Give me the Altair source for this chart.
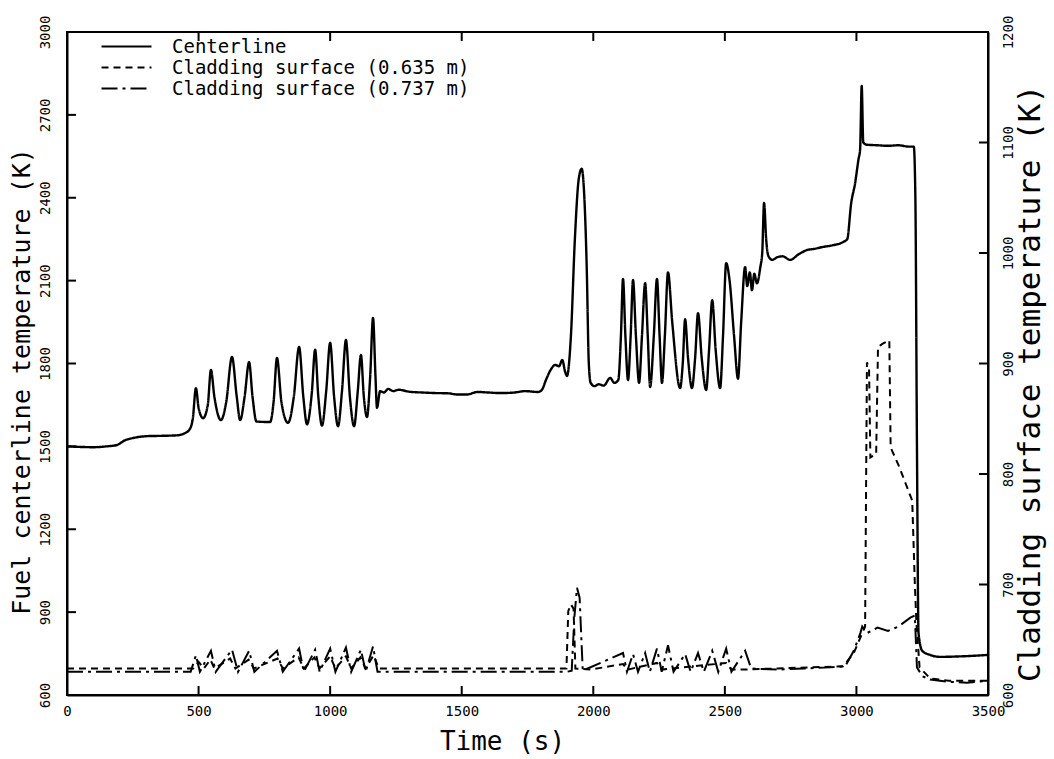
import altair as alt
import pandas as pd

SERIES = ["Centerline", "Cladding surface (0.635 m)", "Cladding surface (0.737 m)"]

# Fuel centerline temperature (K), left axis
cl_t = [0, 50, 100, 150, 190, 220, 250, 280, 304, 350, 418, 448, 465, 478,
        490, 500, 517, 535, 547, 560, 585, 605, 627, 645, 658, 675, 692, 705,
        720, 772, 785, 798, 815, 840, 862, 882, 898, 912, 930, 943, 955, 969,
        985, 1000, 1015, 1030, 1045, 1060, 1075, 1091, 1105, 1117, 1128, 1140,
        1152, 1163, 1172, 1178, 1190, 1205, 1220, 1240, 1260, 1300, 1350, 1400,
        1450, 1480, 1520, 1560, 1600, 1650, 1700, 1740, 1790, 1805, 1820, 1840,
        1855, 1870, 1882, 1893, 1900, 1915, 1930, 1945, 1956, 1965, 1975, 1983,
        1990, 2005, 2020, 2040, 2064, 2080, 2095, 2105, 2113, 2122, 2132, 2142,
        2151, 2162, 2174, 2185, 2197, 2207, 2216, 2230, 2242, 2252, 2261, 2272,
        2284, 2300, 2330, 2340, 2349, 2360, 2375, 2387, 2398, 2412, 2429, 2440,
        2452, 2465, 2482, 2493, 2505, 2518, 2535, 2550, 2562, 2577, 2585, 2595,
        2603, 2612, 2622, 2635, 2642, 2649, 2657, 2665, 2680, 2700, 2720, 2748,
        2780, 2813, 2840, 2873, 2910, 2950, 2965, 2980, 2995, 3008, 3014, 3020,
        3026, 3040, 3080, 3120, 3160, 3200, 3218, 3224, 3230, 3236, 3250, 3280,
        3318, 3400, 3500]
cl_v = [1500, 1498, 1497, 1500, 1505, 1522, 1530, 1535, 1537, 1538, 1540, 1548, 1560, 1600,
        1711, 1640, 1602, 1650, 1777, 1680, 1595, 1660, 1824, 1680, 1595, 1680, 1805, 1680,
        1590, 1588, 1660, 1820, 1660, 1585, 1680, 1860, 1680, 1580, 1690, 1850, 1680, 1575,
        1700, 1875, 1680, 1573, 1700, 1885, 1680, 1573, 1700, 1831, 1680, 1606,
        1750, 1965, 1760, 1640, 1700, 1695, 1708, 1700, 1705, 1698, 1695, 1693,
        1692, 1688, 1688, 1697, 1695, 1693, 1695, 1700, 1697, 1705, 1740, 1780,
        1795, 1790, 1813, 1770, 1755, 1900, 2250, 2470, 2505, 2420, 2150, 1800,
        1730, 1718, 1725, 1720, 1748, 1730, 1740, 1900, 2106, 1900, 1740, 1900,
        2102, 1900, 1730, 1900, 2091, 1900, 1715, 1900, 2106, 1900, 1730, 1900,
        2130, 1950, 1711, 1800, 1960, 1820, 1711, 1820, 1982, 1820, 1704, 1850,
        2029, 1850, 1711, 1900, 2163, 2100, 1900, 1745, 1950, 2149, 2080, 2130,
        2065, 2125, 2090, 2150, 2200, 2381, 2250, 2190, 2175, 2185, 2188, 2175,
        2195, 2211, 2215, 2222, 2228, 2240, 2250, 2380, 2453, 2540, 2575, 2805,
        2600, 2592, 2590, 2588, 2590, 2585, 2585, 2400, 1500, 824, 760, 745,
        738, 740, 745]

# Cladding surface temperature at 0.635 m (K), right axis
c635_t = [0, 200, 480, 500, 520, 545, 560, 620, 640, 690, 710, 800, 820, 880,
          900, 940, 960, 1000, 1020, 1060, 1080, 1115, 1135, 1165, 1185, 1500,
          1898, 1905, 1915, 1925, 1932, 1990, 2113, 2130, 2242, 2260, 2505,
          2525, 2560, 2700, 2950, 2990, 3015, 3033, 3040, 3048, 3053, 3075,
          3082, 3100, 3125, 3130, 3160, 3212, 3222, 3228, 3240, 3280, 3350, 3500]
c635_v = [624, 624, 624, 630, 624, 632, 624, 633, 624, 632, 624, 633, 624, 634,
          624, 634, 624, 635, 624, 635, 624, 634, 624, 636, 624, 624,
          624, 676, 682, 678, 624, 623, 628, 623, 629, 623, 629,
          623, 623, 624, 626, 638, 652, 662, 901, 895, 815, 818,
          915, 918, 921, 824, 808, 776, 700, 665, 625, 615, 613, 613]

# Cladding surface temperature at 0.737 m (K), right axis
c737_t = [0, 470, 490, 505, 547, 565, 627, 650, 692, 712, 798, 820, 882, 900,
          943, 960, 1000, 1020, 1060, 1080, 1117, 1135, 1163, 1180, 1900, 1918,
          1928, 1938, 1948, 1960, 2113, 2128, 2151, 2170, 2197, 2215, 2242,
          2260, 2284, 2305, 2349, 2370, 2398, 2420, 2452, 2475, 2505, 2525,
          2577, 2600, 2700, 2800, 2900, 2957, 2990, 3015, 3022, 3040, 3080,
          3120, 3160, 3205, 3222, 3230, 3250, 3280, 3350, 3420, 3500]
c737_v = [621, 621, 636, 621, 640, 621, 641, 621, 640, 621, 640, 621, 642, 621,
          641, 621, 642, 621, 643, 621, 641, 621, 644, 621, 621, 622,
          670, 697, 688, 622, 638, 621, 637, 621, 638, 621, 642,
          621, 645, 621, 637, 621, 638, 621, 640, 621, 642, 621,
          640, 624, 623, 624, 625, 626, 640, 656, 662, 656, 661,
          658, 662, 670, 672, 625, 617, 614, 612, 611, 613]

x_ticks = [0, 500, 1000, 1500, 2000, 2500, 3000, 3500]
left_ticks = [600, 900, 1200, 1500, 1800, 2100, 2400, 2700, 3000]
right_ticks = [600, 700, 800, 900, 1000, 1100, 1200]

W, H, TL = 921, 663, 9  # plot size and inward tick length

df_cl = pd.DataFrame({"t": cl_t, "v": cl_v, "series": SERIES[0]})
df_cd = pd.concat([
    pd.DataFrame({"t": c635_t, "v": c635_v, "series": SERIES[1]}),
    pd.DataFrame({"t": c737_t, "v": c737_v, "series": SERIES[2]}),
], ignore_index=True)
df_xt = pd.DataFrame({"t": x_ticks})
df_lt = pd.DataFrame({"v": left_ticks})
df_rt = pd.DataFrame({"v": right_ticks})

FONT = "DejaVu Sans Mono"

dash = alt.StrokeDash(
    "series:N",
    scale=alt.Scale(domain=SERIES, range=[[1, 0], [7, 5], [16, 5, 3, 5]]),
    legend=alt.Legend(
        title=None, orient="none", legendX=50, legendY=5,
        symbolType="M-5,0H5", symbolSize=100, symbolStrokeWidth=2,
        symbolStrokeColor="black", labelFont=FONT, labelFontSize=19,
        labelColor="black", labelOffset=36, rowPadding=1, padding=0,
        labelLimit=0,
    ),
)

xscale = alt.Scale(domain=[0, 3500], nice=False)
lscale = alt.Scale(domain=[600, 3000], nice=False, zero=False)
rscale = alt.Scale(domain=[600, 1200], nice=False, zero=False)

x_axis = alt.Axis(orient="bottom", values=x_ticks, title="Time (s)", ticks=False,
                  format="d", labelFlush=False, labelPadding=9, titlePadding=10,
                  titleFontSize=26, titleX=435, labelFontSize=14, grid=False)
l_axis = alt.Axis(orient="left", values=left_ticks,
                  title="Fuel centerline temperature (K)", ticks=False,
                  format="d", labelFlush=False, labelAngle=270, labelPadding=15,
                  labelFontSize=14, titleFontSize=25, titlePadding=4,
                  titleY=349, grid=False)
r_axis = alt.Axis(orient="right", values=right_ticks,
                  title="Cladding surface temperature (K)", ticks=False,
                  format="d", labelFlush=False, labelAngle=270, labelPadding=13,
                  labelFontSize=14, titleFontSize=31, titleAngle=270,
                  titleBaseline="top", titlePadding=0, titleY=351, grid=False)

cl_line = alt.Chart(df_cl).mark_line(color="black", strokeWidth=2.4,
                                     interpolate="monotone").encode(
    x=alt.X("t:Q", scale=xscale, axis=x_axis),
    y=alt.Y("v:Q", scale=lscale, axis=l_axis),
    strokeDash=dash,
)

tick_style = dict(color="black", strokeWidth=2)
bottom_ticks = alt.Chart(df_xt).mark_rule(**tick_style).encode(
    x=alt.X("t:Q", scale=xscale, axis=x_axis),
    y=alt.value(H), y2=alt.value(H - TL))
top_ticks = alt.Chart(df_xt).mark_rule(**tick_style).encode(
    x=alt.X("t:Q", scale=xscale, axis=x_axis),
    y=alt.value(0), y2=alt.value(TL))
left_tick_marks = alt.Chart(df_lt).mark_rule(**tick_style).encode(
    y=alt.Y("v:Q", scale=lscale, axis=l_axis),
    x=alt.value(0), x2=alt.value(TL))

cd_line = alt.Chart(df_cd).mark_line(color="black", strokeWidth=2).encode(
    x=alt.X("t:Q", scale=xscale, axis=x_axis),
    y=alt.Y("v:Q", scale=rscale, axis=r_axis),
    strokeDash=dash,
)
right_tick_marks = alt.Chart(df_rt).mark_rule(**tick_style).encode(
    y=alt.Y("v:Q", scale=rscale, axis=r_axis),
    x=alt.value(W), x2=alt.value(W - TL))

left_group = alt.layer(cl_line, bottom_ticks, top_ticks, left_tick_marks)
right_group = alt.layer(cd_line, right_tick_marks)

chart = alt.layer(left_group, right_group).resolve_scale(y="independent").properties(
    width=W, height=H,
    autosize=alt.AutoSizeParams(type="none"),
    padding={"left": 67, "top": 32, "right": 66, "bottom": 64},
    background="white",
).configure_view(stroke="black", strokeWidth=2).configure_axis(
    domainColor="black", domainWidth=2,
    labelFont=FONT, titleFont=FONT, labelColor="black", titleColor="black",
    titleFontWeight="normal",
)

chart.save("out.html", embed_options={"renderer": "svg", "actions": False})
